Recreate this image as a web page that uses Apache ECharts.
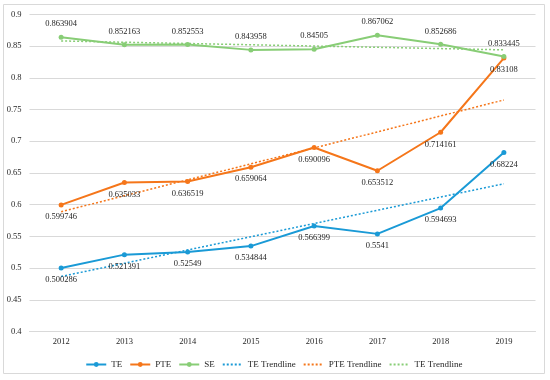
<!DOCTYPE html>
<html><head><meta charset="utf-8">
<script src="https://cdn.jsdelivr.net/npm/echarts@6/dist/echarts.min.js"></script>
<style>html,body{margin:0;padding:0;background:#fff}#c{width:550px;height:380px}</style>
</head><body><div id="c"></div>
<script>
const years = ['2012','2013','2014','2015','2016','2017','2018','2019'];
const TE  = [0.500286,0.521391,0.52549,0.534844,0.566399,0.5541,0.594693,0.68224];
const PTE = [0.599746,0.635033,0.636519,0.659064,0.690096,0.653512,0.714161,0.83108];
const SE  = [0.863904,0.852163,0.852553,0.843958,0.84505,0.867062,0.852686,0.833445];
// trendline endpoints (2012, 2019)
const teTrend  = [0.487, 0.633];
const pteTrend = [0.589, 0.765];
const seTrend  = [0.858, 0.844];
const yTicks = [0.4,0.45,0.5,0.55,0.6,0.65,0.7,0.75,0.8,0.85,0.9];

const cBlue = '#1a9ad6', cOrange = '#f5761a', cGreen = '#88cd76';
const font = '"Liberation Serif","Times New Roman",serif';
const lbl = (pos) => ({show:true, position:pos, distance:pos==='top'?6:5, color:'#262626', fontFamily:font, fontSize:8.5,
  formatter: p => String(p.value)});
function mainSeries(name, data, color, pos){
  return {name, type:'line', data, color, symbol:'circle', symbolSize:5, showAllSymbol:true,
    lineStyle:{width:2, color}, itemStyle:{color}, label:lbl(pos), z:3};
}
function trend(name, ends, color){
  return {name, type:'line', data:[[years[0], ends[0]],[years[years.length-1], ends[1]]],
    color, symbol:'none', lineStyle:{width:1.5, type:[2,2], color}, silent:true, z:2};
}
const trendLegend = name => ({name, itemStyle:{opacity:0}});
const chart = echarts.init(document.getElementById('c'));
chart.setOption({
  animation:false,
  graphic:[{type:'rect', shape:{x:3.5,y:4.5,width:541,height:369}, style:{fill:'none', stroke:'#d9d9d9', lineWidth:1}, silent:true}],
  grid:{left:29.5, right:14.5, top:14.3, bottom:48.3},
  xAxis:{type:'category', data:years, boundaryGap:true,
    axisLine:{show:true, lineStyle:{color:'#d9d9d9'}}, axisTick:{show:false},
    axisLabel:{color:'#262626', fontFamily:font, fontSize:8.5, margin:6}},
  yAxis:{type:'value', min:yTicks[0], max:yTicks[yTicks.length-1], interval:0.05,
    axisLine:{show:false}, axisTick:{show:false},
    splitLine:{lineStyle:{color:'#d9d9d9'}},
    axisLabel:{color:'#262626', fontFamily:font, fontSize:8.5, margin:8,
      formatter: v => String(Math.round(v*100)/100)}},
  legend:{bottom:6, left:'center', itemWidth:20, itemHeight:6, itemGap:7,
    textStyle:{color:'#262626', fontFamily:font, fontSize:9},
    data:['TE','PTE','SE',trendLegend('TE Trendline'),trendLegend('PTE Trendline'),trendLegend('TE Trendline ')]},
  series:[
    mainSeries('TE', TE, cBlue, 'bottom'),
    mainSeries('PTE', PTE, cOrange, 'bottom'),
    mainSeries('SE', SE, cGreen, 'top'),
    trend('TE Trendline', teTrend, cBlue),
    trend('PTE Trendline', pteTrend, cOrange),
    trend('TE Trendline ', seTrend, cGreen)
  ]
});
</script></body></html>
